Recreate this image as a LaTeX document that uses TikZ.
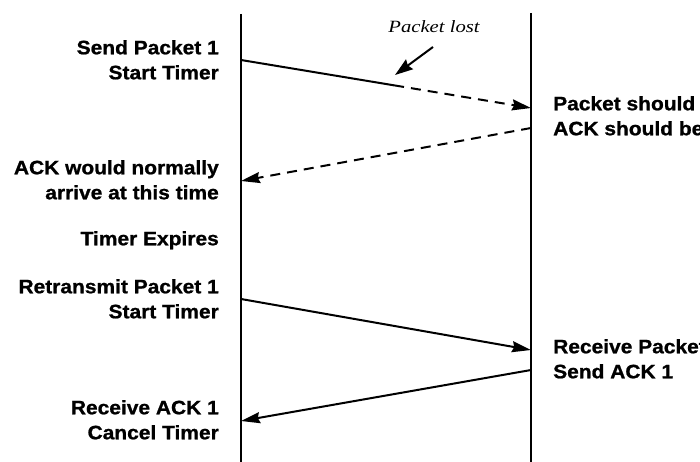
\documentclass[tikz,border=0pt]{standalone}
\usepackage{fontspec}
\usetikzlibrary{arrows.meta,calc}
\newfontfamily\lblfont[FakeStretch=1.08,FakeBold=1]{Liberation Sans Bold}
\newfontfamily\notefont[FakeStretch=1.2]{Liberation Serif}

\begin{document}
\begin{tikzpicture}[x=1pt,y=-1pt,
  timeline/.style={line width=2.2pt},
  msgline/.style={line width=2pt},
  msg/.style={msgline,-{Stealth[length=19pt,width=11pt,inset=2pt]}},
  lostmsg/.style={msg,dash pattern=on 10pt off 7pt},
  lbl/.style={font=\lblfont\fontsize{19.4}{25}\selectfont,inner sep=0pt},
  lblL/.style={lbl,anchor=north east,align=right},
  lblR/.style={lbl,anchor=north west,align=left},
  note/.style={font=\notefont\itshape\fontsize{17.2}{20}\selectfont,inner sep=0pt}]

\useasboundingbox (0,0) rectangle (700,462);
\clip (0,0) rectangle (700,462);
\fill[white] (0,0) rectangle (700,462);

% sender and receiver time lines
\coordinate (sTop) at (241,14);
\coordinate (sBot) at (241,462);
\coordinate (rTop) at (531,13);
\coordinate (rBot) at (531,462);
\draw[timeline] (sTop) -- (sBot);
\draw[timeline] (rTop) -- (rBot);

% event points on the time lines
\coordinate (send1) at (241,60);
\coordinate (arr1)  at (531,108);
\coordinate (ack0)  at (531,128);
\coordinate (back0) at (241,181);
\coordinate (send2) at (241,299);
\coordinate (arr2)  at (531,350);
\coordinate (ack1)  at (531,370);
\coordinate (back1) at (241,421);
\coordinate (lost)  at ($(send1)!0.528!(arr1)$);

% first transmission, lost part way
\draw[msgline] (send1) -- (lost);
\draw[lostmsg] (lost) -- (arr1);
\draw[lostmsg] (ack0) -- (back0);

% retransmission and its acknowledgement
\draw[msg] (send2) -- (arr2);
\draw[msg] (ack1) -- (back1);

% loss annotation
\node[note,anchor=base] (lostnote) at (434,33) {Packet lost};
\coordinate (noteTail) at (433,47);
\coordinate (noteTip)  at (395,75);
\draw[line width=2pt,-{Stealth[length=18pt,width=12pt,inset=2pt]}] (noteTail) -- (noteTip);

% sender side events
\node[lblL] (e1) at (219,40)  {Send Packet 1\\Start Timer};
\node[lblL] (e2) at (219,160) {ACK would normally\\arrive at this time};
\node[lblL] (e3) at (219,231) {Timer Expires};
\node[lblL] (e4) at (219,279) {Retransmit Packet 1\\Start Timer};
\node[lblL] (e5) at (219,400) {Receive ACK 1\\Cancel Timer};

% receiver side events
\node[lblR] (r1) at (553,96)  {Packet should arrive\\ACK should be sent};
\node[lblR] (r2) at (553,339) {Receive Packet 1\\Send ACK 1};
\end{tikzpicture}
\end{document}
